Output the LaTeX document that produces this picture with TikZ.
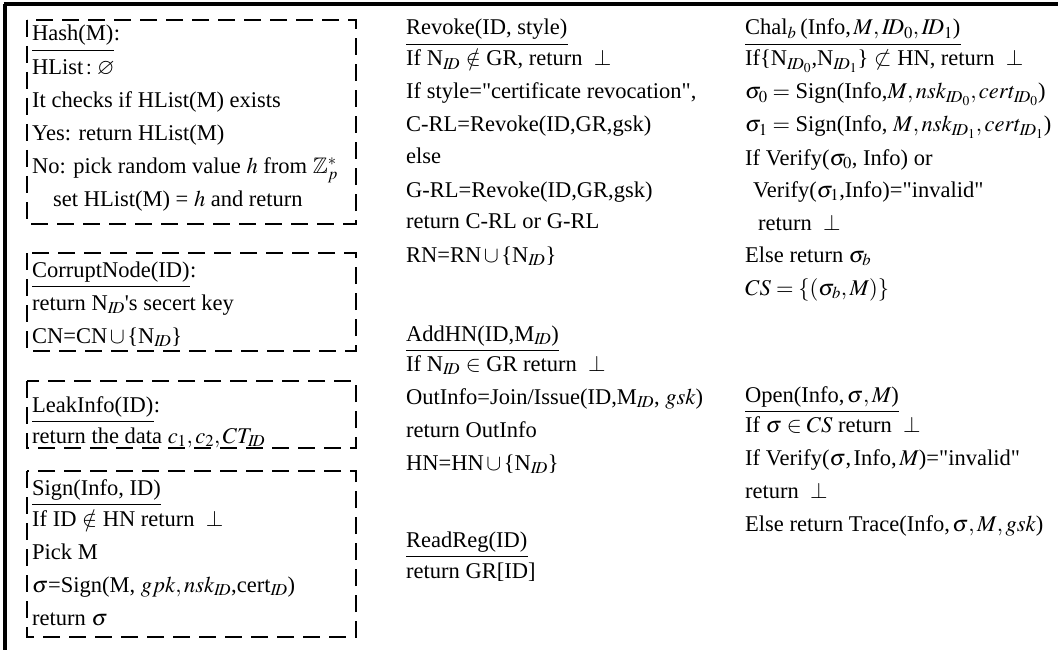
\documentclass[tikz,border=0pt]{standalone}
\usepackage{mathptmx}
\usepackage{amssymb}
\usepackage{fontspec}
\setmainfont{Liberation Serif}[Ligatures=TeXOff]
\begin{document}
\begin{tikzpicture}[x=1pt,y=-1pt,
  txt/.style={anchor=base west,inner sep=0pt,font=\fontsize{22.5}{26}\selectfont},
  dbox/.style={draw=black,line width=2pt,dash pattern=on 17pt off 9pt},
  frameline/.style={draw=black,line width=3.5pt},
  uline/.style={draw=black,line width=1.8pt}]
\useasboundingbox (0,0) rectangle (1058,650);
\fill[white] (0,0) rectangle (1058,650);
% outer frame (top and left edges)
\draw[frameline] (3.5,4) -- (1058,4);
\draw[frameline] (5,4) -- (5,650);

% ---------- left column: dashed boxes ----------
\draw[dbox] (27,20) rectangle (356,224);
\draw[dbox] (27,253) rectangle (356,351);
\draw[dbox] (27,381) rectangle (356,448);
\draw[dbox] (27,471) rectangle (356,637);

% Hash
\node[txt] (hash) at (32,41) {Hash(M)};
\node[txt] (hashc) at (hash.base east) {:};
\node[txt] (h1) at (32,75) {HList$\,:\varnothing$};
\node[txt] (h2) at (32,108) {It checks if HList(M) exists};
\node[txt] (h3) at (32,141) {Yes: return HList(M)};
\node[txt] (h4) at (32,174) {No: pick random value $h$ from $\mathbb{Z}_p^*$};
\node[txt] (h5) at (53,207) {set HList(M) = $h$ and return};

% CorruptNode
\node[txt] (cor) at (32,277) {CorruptNode(ID)};
\node[txt] (corc) at (cor.base east) {:};
\node[txt] (c1) at (32,310) {return N$_{I\!D}$'s secert key};
\node[txt] (c2) at (32,343) {CN=CN$\,\cup\,$\{N$_{I\!D}$\}};

% LeakInfo
\node[txt] (leak) at (32,412) {LeakInfo(ID)};
\node[txt] (leakc) at (leak.base east) {:};
\node[txt] (l1) at (32,443) {return the data $c_1,c_2,CT_{I\!D}$};

% Sign
\node[txt] (sign) at (32,495) {Sign(Info, ID)};
\node[txt] (s1) at (32,526) {If ID $\notin$ HN return \ $\perp$};
\node[txt] (s2) at (32,559) {Pick M};
\node[txt] (s3) at (32,592) {$\sigma$=Sign(M, $gpk,nsk_{I\!D}$,cert$_{I\!D}$)};
\node[txt] (s4) at (32,625) {return $\sigma$};

% ---------- middle column ----------
\node[txt] (rev) at (406,35) {Revoke(ID, style)};
\node[txt] (r1) at (406,66) {If N$_{I\!D}$ $\notin$ GR, return \ $\perp$};
\node[txt] (r2) at (406,99) {If style="certificate revocation",};
\node[txt] (r3) at (406,132) {C-RL=Revoke(ID,GR,gsk)};
\node[txt] (r4) at (406,164) {else};
\node[txt] (r5) at (406,197) {G-RL=Revoke(ID,GR,gsk)};
\node[txt] (r6) at (406,229) {return C-RL or G-RL};
\node[txt] (r7) at (406,262) {RN=RN$\,\cup\,$\{N$_{I\!D}$\}};

\node[txt] (add) at (406,341) {AddHN(ID,M$_{I\!D}$)};
\node[txt] (a1) at (406,371) {If N$_{I\!D}$ $\in$ GR return \ $\perp$};
\node[txt] (a2) at (406,404) {OutInfo=Join/Issue(ID,M$_{I\!D}$, $gsk$)};
\node[txt] (a3) at (406,437) {return OutInfo};
\node[txt] (a4) at (406,470) {HN=HN$\,\cup\,$\{N$_{I\!D}$\}};

\node[txt] (rr) at (406,547) {ReadReg(ID)};
\node[txt] (rr1) at (406,578) {return GR[ID]};

% ---------- right column ----------
\node[txt] (chal) at (745,35) {Chal$_b$\,(Info,$\,M, I\!D_0, I\!D_1$)};
\node[txt] (ch1) at (745,66) {If\{N$_{I\!D_0}$,N$_{I\!D_1}$\} $\not\subset$ HN, return \ $\perp$};
\node[txt] (ch2) at (745,99) {$\sigma_0 =$ Sign(Info,$M, nsk_{I\!D_0}, cert_{I\!D_0}$)};
\node[txt] (ch3) at (745,132) {$\sigma_1 =$ Sign(Info, $M, nsk_{I\!D_1}, cert_{I\!D_1}$)};
\node[txt] (ch4) at (745,165) {If Verify($\sigma_0$, Info) or};
\node[txt] (ch5) at (753,197) {Verify($\sigma_1$,Info)="invalid"};
\node[txt] (ch6) at (758,230) {return \ $\perp$};
\node[txt] (ch7) at (745,262) {Else return $\sigma_b$};
\node[txt] (ch8) at (745,295) {$CS = \{(\sigma_b, M)\}$};

\node[txt] (open) at (745,402) {Open(Info,$\,\sigma, M$)};
\node[txt] (o1) at (745,432) {If $\sigma \in CS$ return \ $\perp$};
\node[txt] (o2) at (745,465) {If Verify($\sigma$,$\,$Info,$\,M$)="invalid"};
\node[txt] (o3) at (745,498) {return \ $\perp$};
\node[txt] (o4) at (745,531) {Else return Trace(Info,$\,\sigma, M, gsk$)};

% title rules
\foreach \t in {hash,cor,leak,sign,rev,add,rr,chal,open}
  \draw[uline] ([yshift=-9.5pt]\t.base west) -- ([yshift=-9.5pt]\t.base east);
\end{tikzpicture}
\end{document}
